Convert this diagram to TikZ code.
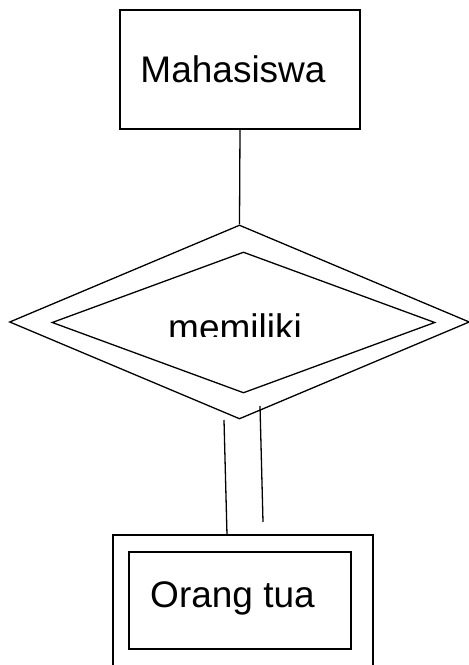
\documentclass[tikz,border=0pt]{standalone}
\usepackage{fontspec}
\setmainfont{Liberation Sans}
\usetikzlibrary{shapes.geometric}
\begin{document}
\begin{tikzpicture}[x=1pt,y=1pt, line width=1.3pt,
  box/.style={draw, rectangle, inner sep=0pt},
  rel/.style={draw, diamond, inner sep=0pt},
  lbl/.style={anchor=base, inner sep=0pt, font=\fontsize{37}{44}\selectfont}]
\clip (0,0) rectangle (469,665);
\fill[white] (0,0) rectangle (469,665);

% entity Mahasiswa
\node[box, minimum width=240pt, minimum height=119pt] (mhs) at (240,595.5) {};
\node[lbl] (mhstxt) at (233,582) {Mahasiswa};

% weak relationship memiliki
\node[rel, minimum width=460pt, minimum height=194pt] (relout) at (239.5,343) {};
\node[rel, minimum width=383pt, minimum height=141pt] (relin) at (243.5,342.5) {};
\begin{scope}
  \clip (0,328) rectangle (469,665);
  \node[lbl] (reltxt) at (235,324) {memiliki};
\end{scope}

% weak entity Orang tua
\node[box, minimum width=260pt, minimum height=140pt] (otout) at (243,60) {};
\node[box, minimum width=222pt, minimum height=97pt] (otin) at (240,64.5) {};
\node[lbl] (ottxt) at (232.5,57) {Orang tua};

% connectors
\draw (mhs.south) -- (relout.north);
\coordinate (l1a) at (224,245);
\coordinate (l1b) at (227,130);
\coordinate (l2a) at (260,259);
\coordinate (l2b) at (263,143);
\draw (l1a) -- (l1b);
\draw (l2a) -- (l2b);
\end{tikzpicture}
\end{document}
